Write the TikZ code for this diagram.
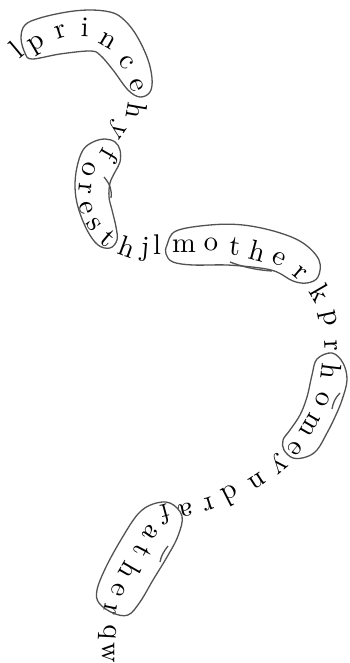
\documentclass[tikz,border=0pt]{standalone}
\usepackage{fontspec}
\begin{document}
\begin{tikzpicture}[x=1pt,y=-1pt,
  letter/.style={inner sep=0pt, text=black, font=\fontsize{10}{12}\selectfont, scale=2.85},
  loopline/.style={draw=black!68, line width=1.3pt}]
\useasboundingbox (0,0) rectangle (349,663);
\foreach \c/\x/\y/\r [count=\i] in {
 l/16/49/40, p/38/45/30, r/61/32/18, i/85/27/-2, n/108/41/-30, c/126/62/-50, e/137/85/-70,
 h/137/111/-100, y/116/130/-125, f/110/155/-120, o/89/169/-110, r/85/189/-95, e/86/208/-75,
 s/94/225/-55, t/108/238/-40, h/127/247/-20, j/145/249/-5, l/157/245/0,
 m/184/246/0, o/211/245/-2, t/235/247/-7, h/258/251/-15, e/279/259/-27, r/300/273/-40,
 k/321/293/-60, p/328/319/-78, r/331/346/-87, h/331/372/-97, o/323/399/-112, m/310/425/-120,
 e/295/448/-130, y/278/464/-140, n/257/481/-147, d/231/496/-153, r/208/504/-162, a/186/510/-168,
 f/166/514/-165, a/151/533/-125, t/142/551/-118, h/130/571/-120, e/118/590/-115, r/110/609/-102,
 q/108/632/-93, w/108/653/-90}
 \node[letter, rotate=\r] (L\i) at (\x,\y) {\c};
% prince
\draw[loopline] plot[smooth cycle, tension=0.6] coordinates {
 (25,25) (40,18) (67,12) (90,10) (110,12) (122,18) (135,33) (147,57) (152,78) (150,92)
 (140,97) (128,90) (113,70) (100,55) (90,51) (60,54) (32,59) (25,53) (21,38)};
% forest
\draw[loopline] plot[smooth cycle, tension=0.6] coordinates {
 (105,139) (93,142) (83,150) (77,167) (75,187) (78,207) (87,230) (98,245) (110,248)
 (117,240) (116,227) (112,210) (109,197) (110,183) (115,172) (120,162) (120,150) (115,142)};
\draw[loopline] (104,177) .. controls (110,184) and (112,190) .. (111,198);
% mother
\draw[loopline] plot[smooth cycle, tension=0.6] coordinates {
 (167,245) (176,231) (210,225) (243,225) (277,232) (303,243) (319,260) (318,277) (307,283)
 (293,281) (277,272) (260,268) (227,265) (193,265) (173,262) (166,254)};
\draw[loopline] (230,262) .. controls (240,266) and (255,270) .. (272,271);
% home
\draw[loopline] plot[smooth cycle, tension=0.6] coordinates {
 (317,359) (332,353) (343,363) (347,380) (342,400) (335,417) (327,433) (317,450) (306,457)
 (293,458) (284,450) (283,440) (290,430) (300,415) (307,397) (312,375)};
\draw[loopline] (340,393) .. controls (335,398) and (333,403) .. (332,409);
% father
\draw[loopline] plot[smooth cycle, tension=0.6] coordinates {
 (153,504) (170,503) (182,516) (178,536) (167,557) (153,580) (140,602) (128,615) (113,613)
 (99,603) (97,590) (106,567) (122,538) (138,514)};
\draw[loopline] (168,546) .. controls (164,551) and (161,556) .. (160,562);
\end{tikzpicture}
\end{document}
